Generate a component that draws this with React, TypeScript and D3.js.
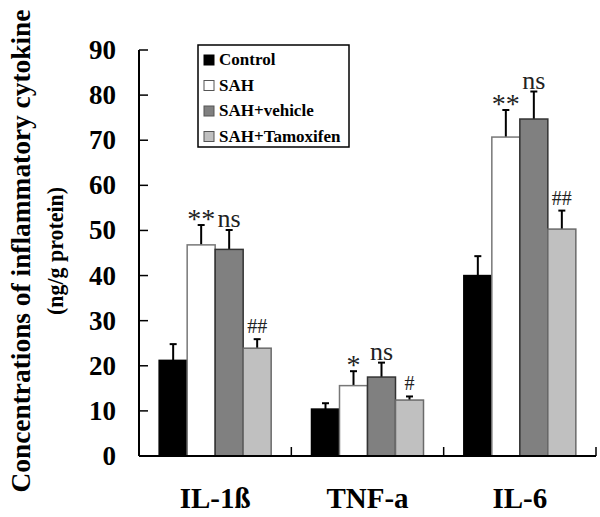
import React from "react";
import * as d3 from "d3";

const categories = ["IL-1ß", "TNF-a", "IL-6"];
const groups = ["Control", "SAH", "SAH+vehicle", "SAH+Tamoxifen"];
const controlMeans = [21.2, 10.4, 40.0];
const sahMeans = [46.8, 15.6, 70.7];
const vehicleMeans = [45.8, 17.5, 74.7];
const tamoxifenMeans = [23.9, 12.4, 50.3];
const controlErr = [3.6, 1.3, 4.3];
const sahErr = [4.4, 3.2, 6.0];
const vehicleErr = [4.3, 3.2, 6.1];
const tamoxifenErr = [2.0, 0.8, 4.1];
const controlMarks = ["", "", ""];
const sahMarks = ["**", "*", "**"];
const vehicleMarks = ["ns", "ns", "ns"];
const tamoxifenMarks = ["##", "#", "##"];
const yTicks = [0, 10, 20, 30, 40, 50, 60, 70, 80, 90];

const seriesMeans = [controlMeans, sahMeans, vehicleMeans, tamoxifenMeans];
const seriesErr = [controlErr, sahErr, vehicleErr, tamoxifenErr];
const seriesMarks = [controlMarks, sahMarks, vehicleMarks, tamoxifenMarks];

const fills = ["#000000", "#ffffff", "#808080", "#c0c0c0"];
const strokes = ["#000000", "#777777", "#333333", "#6a6a6a"];

const W = 600;
const H = 517;
const left = 139;
const right = 596;
const top = 50;
const bottom = 456;

export default function App() {
  const x = d3.scaleBand<string>().domain(categories).range([left, right]).padding(0);
  const xi = d3
    .scaleBand<string>()
    .domain(groups)
    .range([0, x.bandwidth()])
    .paddingInner(0)
    .paddingOuter(0.72);
  const y = d3.scaleLinear().domain([0, 90]).range([bottom, top]);

  const serif = "'Liberation Serif', 'Times New Roman', serif";

  return (
    <svg width={W} height={H} style={{ display: "block", position: "absolute", left: 0, top: 0 }}>
      <rect width={W} height={H} fill="#fff" />
      {categories.map((c, ci) =>
        groups.map((g, gi) => {
          const v = seriesMeans[gi][ci];
          const e = seriesErr[gi][ci];
          const bx = (x(c) as number) + (xi(g) as number);
          const bw = xi.bandwidth();
          const cx = bx + bw / 2;
          const yTop = y(v);
          const yErr = y(v + e);
          const mark = seriesMarks[gi][ci];
          let markY = yErr - 3;
          let fs = 26;
          if (mark.includes("*")) {
            markY = yErr + 3;
            fs = 28;
          }
          if (mark.includes("#")) {
            markY = yErr - 6;
            fs = 20;
          }
          return (
            <g key={c + g}>
              <line x1={cx} x2={cx} y1={yTop} y2={yErr} stroke="#000" strokeWidth={2} />
              <line x1={cx - 3.5} x2={cx + 3.5} y1={yErr} y2={yErr} stroke="#000" strokeWidth={2} />
              <rect
                x={bx}
                y={yTop}
                width={bw}
                height={bottom - yTop}
                fill={fills[gi]}
                stroke={strokes[gi]}
                strokeWidth={1.5}
              />
              {mark && (
                <text
                  x={cx}
                  y={markY}
                  textAnchor="middle"
                  fontFamily={serif}
                  fontSize={fs}
                  fill="#222"
                >
                  {mark}
                </text>
              )}
            </g>
          );
        })
      )}
      <line x1={left} x2={left} y1={top} y2={bottom} stroke="#000" strokeWidth={2} />
      <line x1={left} x2={right} y1={bottom} y2={bottom} stroke="#000" strokeWidth={2} />
      {yTicks.map((t) => (
        <g key={t}>
          <line x1={left} x2={left + 9} y1={y(t)} y2={y(t)} stroke="#000" strokeWidth={1.5} />
          <text
            x={116}
            y={y(t) + 9}
            textAnchor="end"
            fontFamily={serif}
            fontWeight="bold"
            fontSize={27}
            fill="#000"
          >
            {t}
          </text>
        </g>
      ))}
      {categories.map((c) => (
        <g key={c}>
          <line
            x1={(x(c) as number) + x.bandwidth()}
            x2={(x(c) as number) + x.bandwidth()}
            y1={bottom}
            y2={bottom - 9}
            stroke="#000"
            strokeWidth={1.5}
          />
          <text
            x={(x(c) as number) + x.bandwidth() / 2}
            y={508}
            textAnchor="middle"
            fontFamily={serif}
            fontWeight="bold"
            fontSize={29}
            fill="#000"
          >
            {c}
          </text>
        </g>
      ))}
      <text
        transform="translate(30,251) rotate(-90)"
        textAnchor="middle"
        fontFamily={serif}
        fontWeight="bold"
        fontSize={28}
        textLength={483}
        lengthAdjust="spacingAndGlyphs"
        fill="#000"
      >
        Concentrations of inflammatory cytokine
      </text>
      <text
        transform="translate(63,251) rotate(-90)"
        textAnchor="middle"
        fontFamily={serif}
        fontWeight="bold"
        fontSize={23}
        textLength={128}
        lengthAdjust="spacingAndGlyphs"
        fill="#000"
      >
        (ng/g protein)
      </text>
      <rect x={198} y={45} width={151} height={102} fill="#fff" stroke="#000" strokeWidth={1.5} />
      {groups.map((g, gi) => {
        const by = 65 + gi * 25.5;
        return (
          <g key={g}>
            <rect
              x={204}
              y={by - 10}
              width={10}
              height={10}
              fill={fills[gi]}
              stroke={gi === 0 ? "#000" : "#555"}
              strokeWidth={1}
            />
            <text x={219} y={by} fontFamily={serif} fontWeight="bold" fontSize={17} fill="#000">
              {g}
            </text>
          </g>
        );
      })}
    </svg>
  );
}
